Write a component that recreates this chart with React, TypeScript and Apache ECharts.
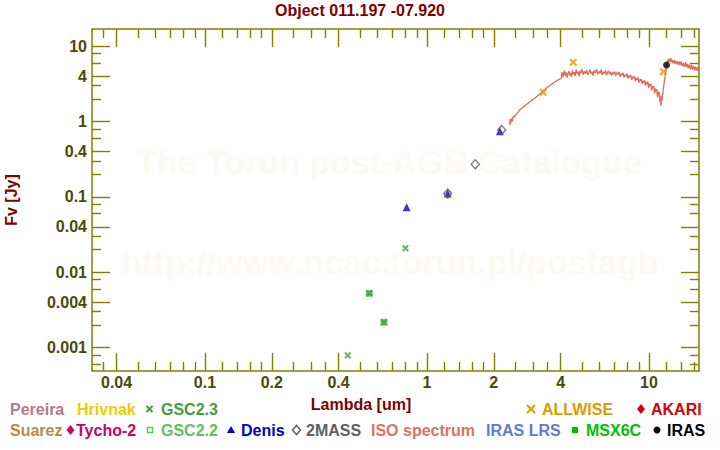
import React, { useEffect, useRef } from 'react';
import * as echarts from 'echarts';

// ---- axis ranges (µm, Jy) ----
const xRange = [0.031, 16.8];
const yRange = [0.000489, 17.0];

// ---- tick values ----
const xMajorTicks = [0.04, 0.1, 0.2, 0.4, 1, 2, 4, 10];
const xMinorTicks = [0.035, 0.05, 0.06, 0.07, 0.08, 0.09, 0.12, 0.14, 0.16, 0.18, 0.25, 0.3, 0.35,
  0.5, 0.6, 0.7, 0.8, 0.9, 1.2, 1.4, 1.6, 1.8, 2.5, 3, 3.5, 5, 6, 7, 8, 9, 12, 14, 16];
const yMajorTicks = [10, 4, 1, 0.4, 0.1, 0.04, 0.01, 0.004, 0.001];
const yMinorTicks = [8, 6, 3, 2, 0.8, 0.6, 0.3, 0.2, 0.08, 0.06, 0.03, 0.02, 0.008, 0.006, 0.003, 0.002,
  0.0008, 0.0006];

// ---- photometry ----
const gsc23Wl = [0.44, 0.55, 0.64, 0.80];
const gsc23Flux = [0.00079, 0.00526, 0.00217, 0.0209];
const gsc22Wl = [0.55, 0.64];
const gsc22Flux = [0.00526, 0.00217];
const denisWl = [0.81, 1.24, 2.13];
const denisFlux = [0.0728, 0.111, 0.746];
const twomassWl = [1.24, 1.65, 2.17];
const twomassFlux = [0.111, 0.272, 0.776];
const allwiseWl = [3.34, 4.56, 11.6];
const allwiseFlux = [2.46, 6.15, 4.61];
const irasWl = [12.0];
const irasFlux = [5.66];

// ---- ISO spectrum [µm, Jy] ----
const isoSpectrum: [number, number][] = [
  [2.36, 0.90], [2.37, 1.08], [2.38, 0.95], [2.40, 1.10], [2.42, 1.00], [2.44, 1.16], [2.47, 1.15],
  [2.50, 1.22], [2.54, 1.28], [2.58, 1.35], [2.62, 1.45], [2.66, 1.49], [2.70, 1.56], [2.75, 1.61],
  [2.80, 1.69], [2.85, 1.75], [2.90, 1.84], [2.95, 1.88], [3.00, 1.98], [3.06, 2.04], [3.12, 2.16],
  [3.18, 2.25], [3.24, 2.37], [3.30, 2.47], [3.36, 2.61], [3.42, 2.71], [3.48, 2.86], [3.55, 2.97],
  [3.62, 3.11], [3.70, 3.23], [3.78, 3.39], [3.86, 3.51], [3.94, 3.65], [4.02, 3.74],
  [4.06, 4.55], [4.10, 3.90], [4.13, 4.40], [4.16, 4.75], [4.20, 4.05], [4.24, 4.50], [4.28, 3.85],
  [4.32, 4.35], [4.36, 4.70], [4.40, 4.10], [4.44, 4.45], [4.48, 3.95], [4.52, 4.80], [4.56, 4.25],
  [4.60, 4.55], [4.65, 4.05], [4.70, 4.90], [4.75, 4.30], [4.80, 4.60], [4.85, 4.00], [4.90, 4.75],
  [4.95, 4.40], [5.00, 5.00], [5.06, 4.20], [5.12, 4.65], [5.18, 4.35], [5.24, 4.85], [5.30, 4.15],
  [5.36, 4.55], [5.42, 4.95], [5.48, 4.30], [5.54, 4.60], [5.60, 4.10], [5.67, 4.80], [5.74, 4.45],
  [5.81, 4.95], [5.88, 4.25], [5.95, 4.65], [6.02, 4.40], [6.09, 4.90], [6.16, 4.20], [6.23, 4.60],
  [6.30, 4.35], [6.37, 4.80], [6.44, 4.15], [6.51, 4.55], [6.58, 4.70], [6.65, 4.25], [6.72, 4.60],
  [6.79, 4.10], [6.86, 4.50], [6.93, 4.30], [7.00, 4.65], [7.08, 4.05], [7.16, 4.45], [7.24, 4.25],
  [7.32, 4.60], [7.40, 3.95], [7.48, 4.35], [7.56, 4.15], [7.64, 4.45], [7.72, 3.85], [7.80, 4.20],
  [7.88, 4.00], [7.96, 4.35], [8.04, 3.75], [8.12, 4.10], [8.20, 3.90], [8.28, 4.15], [8.36, 3.60],
  [8.44, 3.95], [8.52, 3.75], [8.60, 4.00], [8.68, 3.45], [8.76, 3.80], [8.84, 3.60], [8.92, 3.85],
  [9.00, 3.30], [9.08, 3.65], [9.16, 3.45], [9.24, 3.70], [9.32, 3.15], [9.40, 3.50], [9.48, 3.30],
  [9.56, 3.55], [9.64, 3.00], [9.72, 3.35], [9.80, 3.15], [9.88, 3.40], [9.96, 2.80], [10.04, 3.20],
  [10.12, 2.95], [10.20, 3.15], [10.28, 2.60], [10.36, 2.95], [10.44, 2.75], [10.52, 2.95],
  [10.60, 2.35], [10.68, 2.75], [10.76, 2.50], [10.84, 2.70], [10.92, 2.10], [11.00, 2.50],
  [11.07, 2.25], [11.14, 2.45], [11.21, 1.80], [11.28, 2.20], [11.33, 1.62], [11.38, 2.05],
  [11.44, 1.90], [11.50, 2.25], [11.56, 2.45], [11.62, 2.80], [11.68, 3.10], [11.74, 3.50],
  [11.80, 3.85], [11.86, 4.30], [11.92, 4.75], [11.98, 5.30], [12.04, 5.80], [12.10, 6.30],
  [12.16, 6.60], [12.22, 6.20], [12.28, 6.90], [12.34, 6.40], [12.40, 6.70], [12.46, 6.10],
  [12.52, 6.60], [12.58, 6.95], [12.64, 6.30], [12.70, 6.60], [12.78, 5.95], [12.86, 6.45],
  [12.94, 6.15], [13.02, 6.60], [13.10, 5.85], [13.18, 6.30], [13.26, 6.00], [13.34, 6.40],
  [13.42, 5.70], [13.50, 6.15], [13.58, 5.90], [13.66, 6.30], [13.74, 5.60], [13.82, 6.10],
  [13.90, 5.80], [13.98, 6.35], [14.06, 5.50], [14.14, 5.95], [14.22, 5.65], [14.30, 6.05],
  [14.38, 5.35], [14.46, 5.85], [14.54, 5.55], [14.62, 6.20], [14.70, 5.30], [14.78, 5.75],
  [14.86, 5.45], [14.94, 5.90], [15.02, 5.10], [15.10, 5.60], [15.18, 5.30], [15.26, 5.75],
  [15.34, 4.95], [15.42, 5.45], [15.50, 5.15], [15.58, 5.70], [15.66, 4.90], [15.74, 5.35],
  [15.82, 5.05], [15.90, 5.50], [15.98, 4.80], [16.06, 5.30], [16.14, 5.00], [16.22, 5.40],
  [16.30, 4.75], [16.38, 5.20], [16.46, 4.90], [16.54, 5.30], [16.62, 4.70], [16.70, 5.10],
  [16.78, 4.85],
];

const FONT = '"Liberation Sans", Arial, Helvetica, sans-serif';
const AXIS_COLOR = '#808000';
const LABEL_COLOR = '#4a4a0a';
const DARK_RED = '#800000';
const X_PATH = 'path://M0,2L2,0L5,3L8,0L10,2L7,5L10,8L8,10L5,7L2,10L0,8L3,5Z';

const lg = Math.log10;
const pts = (w: number[], f: number[]) => w.map((v, i) => [lg(v), lg(f[i])]);

function fmt(ticks: number[]) {
  return (v: number) => {
    const t = ticks.find((tt) => Math.abs(lg(tt) - v) < 1e-6);
    return t === undefined ? '' : String(t);
  };
}

function makeAxis(kind: 'x' | 'y', position: string, ticks: number[], len: number, main: boolean, labels: boolean) {
  const range = kind === 'x' ? xRange : yRange;
  return {
    type: 'value',
    position,
    min: lg(range[0]),
    max: lg(range[1]),
    axisLine: { show: main, onZero: false, lineStyle: { color: AXIS_COLOR, width: 1.5 } },
    axisTick: {
      show: true,
      inside: true,
      length: len,
      customValues: ticks.map(lg),
      lineStyle: { color: AXIS_COLOR, width: 1.4 },
    },
    axisLabel: {
      show: labels,
      customValues: ticks.map(lg),
      formatter: fmt(ticks),
      color: LABEL_COLOR,
      fontWeight: 'bold',
      fontSize: 16,
      fontFamily: FONT,
      margin: kind === 'x' ? 3 : 5,
    },
    splitLine: { show: false },
  };
}

function txt(text: string, x: number, y: number, fill: string, extra: any = {}) {
  return {
    type: 'text',
    x,
    y,
    z: 10,
    style: {
      text,
      fill,
      font: `bold 16px ${FONT}`,
      align: 'left',
      verticalAlign: 'middle',
      ...extra,
    },
  };
}

function cross(cx: number, cy: number, h: number, color: string) {
  return [
    { type: 'line', z: 10, shape: { x1: cx - h, y1: cy - h, x2: cx + h, y2: cy + h }, style: { stroke: color, lineWidth: 2 } },
    { type: 'line', z: 10, shape: { x1: cx - h, y1: cy + h, x2: cx + h, y2: cy - h }, style: { stroke: color, lineWidth: 2 } },
  ];
}

function diamond(cx: number, cy: number, w: number, h: number, style: any) {
  return {
    type: 'polygon',
    z: 10,
    shape: { points: [[cx, cy - h], [cx + w, cy], [cx, cy + h], [cx - w, cy]] },
    style,
  };
}

export default function App() {
  const ref = useRef<HTMLDivElement>(null);

  useEffect(() => {
    if (!ref.current) return;
    const chart = echarts.init(ref.current, undefined, { renderer: 'svg' });

    const r1 = 409;
    const r2 = 430;
    const graphic: any[] = [
      // watermark
      {
        type: 'text', x: 389, y: 162, z: 0,
        style: { text: 'The Torun post-AGB Catalogue', fill: '#fdfaf4', font: `bold 34px ${FONT}`, align: 'center', verticalAlign: 'middle' },
      },
      {
        type: 'text', x: 390, y: 262, z: 0,
        style: { text: 'http://www.ncac.torun.pl/postagb', fill: '#fdfaf4', font: `bold 34px ${FONT}`, align: 'center', verticalAlign: 'middle' },
      },
      // title & axis names
      txt('Object 011.197 -07.920', 360, 10, DARK_RED, { align: 'center', font: `bold 16px ${FONT}` }),
      txt('Lambda [um]', 361, 404, DARK_RED, { align: 'center' }),
      { ...txt('Fv [Jy]', 11, 200, DARK_RED, { align: 'center' }), rotation: Math.PI / 2 },
      // legend row 1
      txt('Pereira', 10, r1, '#b47890'),
      txt('Hrivnak', 77, r1, '#e8d000'),
      ...cross(149.5, r1, 3, '#40a040'),
      txt('GSC2.3', 161, r1, '#40a040'),
      ...cross(531, r1, 4, '#e09a00'),
      txt('ALLWISE', 542, r1, '#e09a00'),
      diamond(641, r1, 4, 5, { fill: '#dd0000' }),
      txt('AKARI', 651, r1, '#dd0000'),
      // legend row 2
      txt('Suarez', 10, r2, '#c0883c'),
      diamond(70.5, r2, 4, 5, { fill: '#cc0066' }),
      txt('Tycho-2', 76, r2, '#cc0066'),
      { type: 'rect', z: 10, shape: { x: 147.5, y: r2 - 2.5, width: 5, height: 5 }, style: { fill: 'none', stroke: '#60c060', lineWidth: 1.5 } },
      txt('GSC2.2', 161, r2, '#60c060'),
      { type: 'polygon', z: 10, shape: { points: [[231, r2 - 4], [235, r2 + 3], [227, r2 + 3]] }, style: { fill: '#0000cc' } },
      txt('Denis', 241, r2, '#0000cc'),
      diamond(296.5, r2, 4, 4.5, { fill: 'none', stroke: '#606060', lineWidth: 1.5 }),
      txt('2MASS', 306, r2, '#606060'),
      txt('ISO spectrum', 371, r2, '#e07060'),
      txt('IRAS LRS', 486, r2, '#6878d8'),
      { type: 'rect', z: 10, shape: { x: 572, y: r2 - 3, width: 6, height: 6 }, style: { fill: '#00c000' } },
      txt('MSX6C', 586, r2, '#00c000'),
      { type: 'circle', z: 10, shape: { cx: 657, cy: r2, r: 3.5 }, style: { fill: '#000000' } },
      txt('IRAS', 667, r2, '#000000'),
    ];

    chart.setOption({
      animation: false,
      backgroundColor: '#ffffff',
      textStyle: { fontFamily: FONT },
      grid: { left: 92, right: 21, top: 29, bottom: 79, containLabel: false },
      xAxis: [
        makeAxis('x', 'bottom', xMajorTicks, 18, true, true),
        makeAxis('x', 'bottom', xMinorTicks, 9, false, false),
        makeAxis('x', 'top', xMajorTicks, 18, true, false),
        makeAxis('x', 'top', xMinorTicks, 9, false, false),
      ],
      yAxis: [
        makeAxis('y', 'left', yMajorTicks, 18, true, true),
        makeAxis('y', 'left', yMinorTicks, 9, false, false),
        makeAxis('y', 'right', yMajorTicks, 18, true, false),
        makeAxis('y', 'right', yMinorTicks, 9, false, false),
      ],
      graphic,
      series: [
        {
          name: 'ISO spectrum',
          type: 'line',
          data: isoSpectrum.map(([w, f]) => [lg(w), lg(f)]),
          showSymbol: false,
          lineStyle: { color: '#e06b58', width: 1.3 },
          z: 2,
        },
        {
          name: 'GSC2.2',
          type: 'scatter',
          data: pts(gsc22Wl, gsc22Flux),
          symbol: 'rect',
          symbolSize: 7,
          itemStyle: { color: '#5cbc5c' },
          z: 3,
        },
        {
          name: 'GSC2.3',
          type: 'scatter',
          data: pts(gsc23Wl, gsc23Flux),
          symbol: X_PATH,
          symbolSize: 7,
          itemStyle: { color: '#3c9c3c' },
          z: 4,
        },
        {
          name: 'Denis',
          type: 'scatter',
          data: pts(denisWl, denisFlux),
          symbol: 'triangle',
          symbolSize: 8,
          itemStyle: { color: '#0000cc' },
          z: 4,
        },
        {
          name: '2MASS',
          type: 'scatter',
          data: pts(twomassWl, twomassFlux),
          symbol: 'diamond',
          symbolSize: [8, 9],
          itemStyle: { color: 'rgba(255,255,255,0)', borderColor: '#606060', borderWidth: 1.5 },
          z: 5,
        },
        {
          name: 'ALLWISE',
          type: 'scatter',
          data: pts(allwiseWl, allwiseFlux),
          symbol: X_PATH,
          symbolSize: 8,
          itemStyle: { color: '#e09a00' },
          z: 5,
        },
        {
          name: 'IRAS',
          type: 'scatter',
          data: pts(irasWl, irasFlux),
          symbol: 'circle',
          symbolSize: 7,
          itemStyle: { color: '#000000' },
          z: 6,
        },
      ],
    });

    return () => chart.dispose();
  }, []);

  return (
    <div
      ref={ref}
      style={{ position: 'fixed', left: 0, top: 0, width: 720, height: 450, background: '#fff' }}
    />
  );
}
